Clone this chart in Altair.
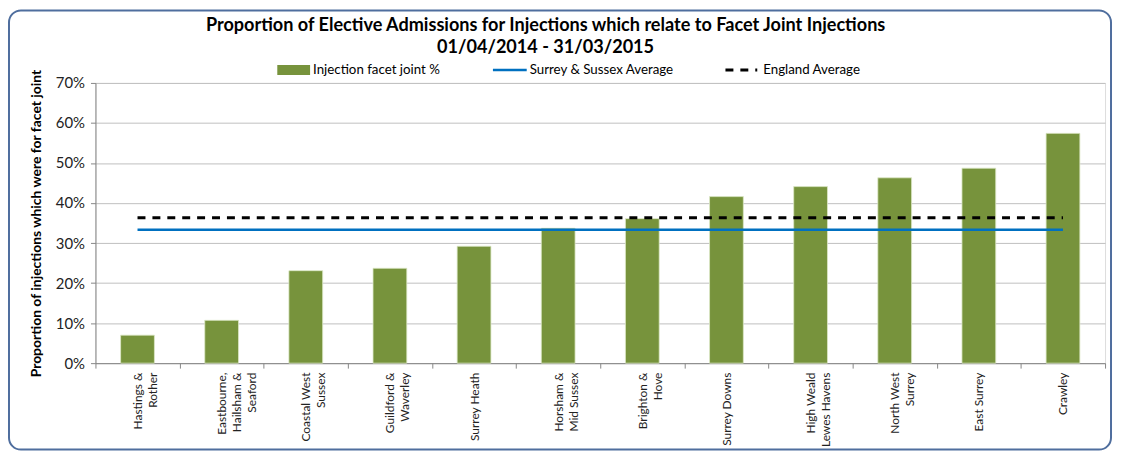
import altair as alt
import pandas as pd

categories = ["Hastings &\nRother", "Eastbourne,\nHailsham &\nSeaford", "Coastal West\nSussex",
              "Guildford &\nWaverley", "Surrey Heath", "Horsham &\nMid Sussex", "Brighton &\nHove",
              "Surrey Downs", "High Weald\nLewes Havens", "North West\nSurrey", "East Surrey", "Crawley"]
facet_pct = [0.070, 0.107, 0.231, 0.237, 0.292, 0.337, 0.361, 0.416, 0.441, 0.463, 0.487, 0.574]
ss_average = 0.333
england_average = 0.363
y_ticks = [0, 0.1, 0.2, 0.3, 0.4, 0.5, 0.6, 0.7]
title_lines = ["Proportion of Elective Admissions for Injections which relate to Facet Joint Injections",
               "01/04/2014 - 31/03/2015"]

FONT = "Lato"
W, H = 1016, 282

df = pd.DataFrame({"cat": categories, "val": facet_pct,
                   "ss": [ss_average] * len(categories),
                   "eng": [england_average] * len(categories)})

xenc = alt.X("cat:N", sort=categories, title=None,
             scale=alt.Scale(paddingInner=0, paddingOuter=0),
             axis=alt.Axis(labelAngle=-90, labelAlign="right", labelBaseline="middle",
                           labelExpr="split(datum.label, '\\n')", labelLineHeight=15,
                           labelFont=FONT, labelFontSize=12, labelColor="#222",
                           labelPadding=4, tickBand="extent", tickSize=5,
                           tickColor="#868686", domainColor="#868686", grid=False))

yscale = alt.Scale(domain=[0, 0.7])

bars = alt.Chart(df).mark_bar(size=34, color="#77933C", stroke="#DDE8C8", strokeWidth=0.8).encode(
    x=xenc,
    y=alt.Y("val:Q", scale=yscale,
            title="Proportion of injections which were for facet joint",
            axis=alt.Axis(values=y_ticks, format=".0%", labelFont=FONT, labelFontSize=15,
                          labelColor="#222", labelPadding=6, tickSize=5, tickColor="#868686",
                          domainColor="#868686", gridColor="#BFBFBF", titleFont=FONT,
                          titleFontSize=14, titleFontWeight="bold", titleColor="#000",
                          titlePadding=12)),
)

ss_line = alt.Chart(df).mark_line(color="#0070C0", strokeWidth=2.5).encode(
    x=alt.X("cat:N", sort=categories), y=alt.Y("ss:Q", scale=yscale))
eng_line = alt.Chart(df).mark_line(color="#000000", strokeWidth=3, strokeDash=[8, 7]).encode(
    x=alt.X("cat:N", sort=categories), y=alt.Y("eng:Q", scale=yscale))

one = pd.DataFrame({"a": [0]})
leg_y = -13
LFS = 13.4
leg_rect = alt.Chart(one).mark_rect(color="#77933C").encode(
    x=alt.value(183), x2=alt.value(216), y=alt.value(leg_y - 5), y2=alt.value(leg_y + 5))
leg_t1 = alt.Chart(one).mark_text(align="left", baseline="middle", font=FONT, fontSize=LFS, color="#000").encode(
    x=alt.value(219), y=alt.value(leg_y), text=alt.value("Injection facet joint %"))
leg_blue = alt.Chart(one).mark_rule(color="#0070C0", strokeWidth=2.5).encode(
    x=alt.value(400), x2=alt.value(434), y=alt.value(leg_y))
leg_t2 = alt.Chart(one).mark_text(align="left", baseline="middle", font=FONT, fontSize=LFS, color="#000").encode(
    x=alt.value(437), y=alt.value(leg_y), text=alt.value("Surrey & Sussex Average"))
leg_dash = alt.Chart(one).mark_rule(color="#000", strokeWidth=3, strokeDash=[8, 7]).encode(
    x=alt.value(634), x2=alt.value(666), y=alt.value(leg_y))
leg_t3 = alt.Chart(one).mark_text(align="left", baseline="middle", font=FONT, fontSize=LFS, color="#000").encode(
    x=alt.value(672), y=alt.value(leg_y), text=alt.value("England Average"))

title1 = alt.Chart(one).mark_text(align="center", baseline="middle", font=FONT, fontSize=18.2,
                                  fontWeight="bold", color="#000").encode(
    x=alt.value(453), y=alt.value(-57), text=alt.value(title_lines[0]))
title2 = alt.Chart(one).mark_text(align="center", baseline="middle", font=FONT, fontSize=18.2,
                                  fontWeight="bold", color="#000").encode(
    x=alt.value(453), y=alt.value(-35), text=alt.value(title_lines[1]))

frame = alt.Chart(one).mark_rect(fillOpacity=0, stroke="#4F6E9E", strokeWidth=2, cornerRadius=12).encode(
    x=alt.value(-87), x2=alt.value(1022), y=alt.value(-73), y2=alt.value(369))

chart = alt.layer(frame, bars, ss_line, eng_line, leg_rect, leg_t1, leg_blue, leg_t2, leg_dash, leg_t3,
                  title1, title2).properties(
    width=W, height=H,
    autosize=alt.AutoSizeParams(type="none"),
    padding={"left": 88, "top": 74, "right": 8, "bottom": 88},
).configure_view(stroke=None).configure(background="white")

chart.save("out.html", embed_options={"renderer": "svg", "actions": False})
